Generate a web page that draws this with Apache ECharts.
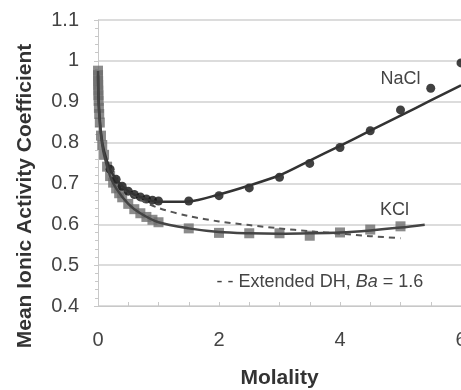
<!DOCTYPE html>
<html>
<head>
<meta charset="utf-8">
<script src="https://cdn.jsdelivr.net/npm/echarts@6/dist/echarts.min.js"></script>
<style>
  html, body { margin: 0; padding: 0; background: #fff; }
  #chart { width: 461px; height: 390px; }
</style>
</head>
<body>
<div id="chart"></div>
<script>
// measured points
const naclM = [0.2, 0.3, 0.4, 0.5, 0.6, 0.7, 0.8, 0.9, 1.0, 1.5, 2, 2.5, 3, 3.5, 4, 4.5, 5, 5.5, 6];
const naclG = [0.735, 0.710, 0.693, 0.681, 0.673, 0.667, 0.662, 0.659, 0.657, 0.657, 0.670, 0.689, 0.715, 0.749, 0.788, 0.829, 0.880, 0.933, 0.995];
const kclM = [0.0005, 0.001, 0.002, 0.003, 0.005, 0.007, 0.01, 0.015, 0.02, 0.03, 0.05, 0.07, 0.1, 0.15, 0.2, 0.25, 0.3, 0.35, 0.4, 0.5, 0.6, 0.7, 0.8, 0.9, 1.0, 1.5, 2, 2.5, 3, 3.5, 4, 4.5, 5];
const kclG = [0.976, 0.965, 0.951, 0.941, 0.927, 0.916, 0.902, 0.885, 0.870, 0.849, 0.817, 0.794, 0.770, 0.741, 0.718, 0.702, 0.688, 0.676, 0.666, 0.650, 0.637, 0.627, 0.618, 0.611, 0.605, 0.590, 0.579, 0.578, 0.578, 0.572, 0.580, 0.587, 0.595];

// fitted curves
const naclFitM = [0.001, 0.01, 0.05, 0.1, 0.2, 0.3, 0.5, 0.7, 1, 1.5, 2, 2.5, 3, 3.5, 4, 4.5, 5, 5.5, 6];
const naclFitG = [0.965, 0.903, 0.823, 0.779, 0.735, 0.710, 0.681, 0.667, 0.655, 0.656, 0.673, 0.695, 0.720, 0.756, 0.792, 0.829, 0.866, 0.903, 0.940];
const kclFitM = [0.0005, 0.001, 0.005, 0.01, 0.02, 0.05, 0.1, 0.2, 0.3, 0.5, 0.7, 1, 1.5, 2, 2.5, 3, 3.5, 4, 4.5, 5, 5.4];
const kclFitG = [0.975, 0.965, 0.927, 0.902, 0.870, 0.817, 0.770, 0.718, 0.688, 0.650, 0.627, 0.605, 0.590, 0.581, 0.578, 0.577, 0.578, 0.580, 0.585, 0.592, 0.599];
const dhM = [0.2, 0.3, 0.5, 0.7, 1, 1.5, 2, 2.5, 3, 3.5, 4, 4.5, 5];
const dhG = [0.737, 0.711, 0.680, 0.660, 0.640, 0.620, 0.607, 0.598, 0.590, 0.583, 0.577, 0.571, 0.566];

const pairs = (xs, ys) => xs.map((x, i) => [x, ys[i]]);
const font = "'Liberation Sans', Arial, sans-serif";

const chart = echarts.init(document.getElementById("chart"));
chart.setOption({
  animation: false,
  grid: { left: 98, right: 0, top: 20, bottom: 84, outerBoundsMode: "none", containLabel: false },
  xAxis: {
    type: "value",
    min: 0,
    max: 6,
    interval: 2,
    name: "Molality",
    nameLocation: "middle",
    nameGap: 62,
    nameTextStyle: { fontFamily: font, fontSize: 21, fontWeight: "bold", color: "#333" },
    axisLine: { show: true, lineStyle: { color: "#c8c8c8", width: 1 } },
    axisTick: { show: true, inside: true, length: 4, lineStyle: { color: "#c8c8c8" } },
    minorTick: { show: true, splitNumber: 4, length: 4, lineStyle: { color: "#c8c8c8" } },
    splitLine: { show: false },
    axisLabel: { fontFamily: font, fontSize: 20, color: "#444", margin: 24, showMaxLabel: true },
  },
  yAxis: {
    type: "value",
    min: 0.4,
    max: 1.1,
    interval: 0.1,
    name: "Mean Ionic Activity Coefficient",
    nameLocation: "middle",
    nameGap: 62,
    nameTextStyle: { fontFamily: font, fontSize: 21, fontWeight: "bold", color: "#333", padding: [0, 66, 0, 0] },
    axisLine: { show: true, lineStyle: { color: "#c8c8c8", width: 1 } },
    axisTick: { show: true, length: 4, lineStyle: { color: "#c8c8c8" } },
    minorTick: { show: true, splitNumber: 5, length: 3, lineStyle: { color: "#c8c8c8" } },
    splitLine: { show: true, lineStyle: { color: "#dcdcdc", width: 2 } },
    axisLabel: { fontFamily: font, fontSize: 20, color: "#444", margin: 19 },
  },
  series: [
    {
      name: "Extended DH",
      type: "line",
      data: pairs(dhM, dhG),
      smooth: 0.3,
      symbol: "none",
      lineStyle: { color: "#555", width: 2, type: [6, 5] },
      markPoint: {
        symbol: "circle",
        symbolSize: 0,
        data: [{ coord: [1.96, 0.459], value: 0 }],
        label: {
          show: true,
          position: "inside",
          align: "left",
          verticalAlign: "middle",
          formatter: "- - Extended DH, {i|Ba} = 1.6",
          fontFamily: font,
          fontSize: 18,
          color: "#444",
          rich: { i: { fontFamily: font, fontSize: 18, fontStyle: "italic", color: "#444" } },
        },
      },
    },
    {
      name: "NaCl fit",
      type: "line",
      data: pairs(naclFitM, naclFitG),
      smooth: 0.3,
      symbol: "none",
      lineStyle: { color: "#333", width: 2.5 },
    },
    {
      name: "KCl fit",
      type: "line",
      data: pairs(kclFitM, kclFitG),
      smooth: 0.3,
      symbol: "none",
      lineStyle: { color: "#444", width: 2.5 },
    },
    {
      name: "KCl",
      type: "scatter",
      data: pairs(kclM, kclG),
      symbol: "rect",
      symbolSize: 10,
      itemStyle: { color: "#6e6e6e" },
      markPoint: {
        symbol: "circle",
        symbolSize: 0,
        data: [{ coord: [4.9, 0.636], value: 0 }],
        label: { show: true, position: "inside", formatter: "KCl", fontFamily: font, fontSize: 18, color: "#444" },
      },
    },
    {
      name: "NaCl",
      type: "scatter",
      data: pairs(naclM, naclG),
      symbol: "circle",
      symbolSize: 9,
      clip: false,
      itemStyle: { color: "#111" },
      markPoint: {
        symbol: "circle",
        symbolSize: 0,
        data: [{ coord: [5.0, 0.955], value: 0 }],
        label: { show: true, position: "inside", formatter: "NaCl", fontFamily: font, fontSize: 18, color: "#444" },
      },
    },
  ],
});
</script>
</body>
</html>
